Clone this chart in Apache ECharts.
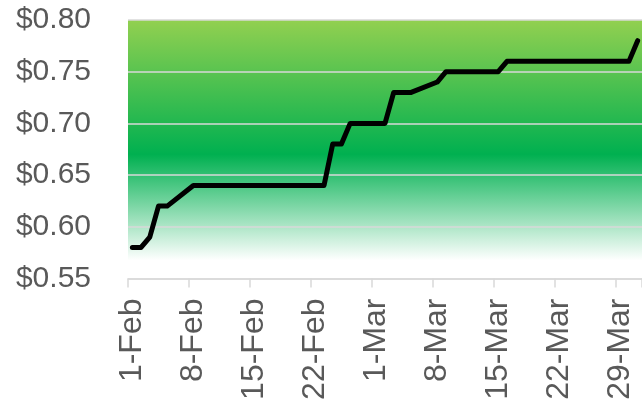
<!DOCTYPE html>
<html>
<head>
<meta charset="utf-8">
<script src="https://cdn.jsdelivr.net/npm/echarts@6/dist/echarts.min.js"></script>
<style>
  html, body { margin: 0; padding: 0; background: #ffffff; }
  #chart { width: 642px; height: 403px; }
</style>
</head>
<body>
<div id="chart"></div>
<script>
// Daily categories, 1 Feb – 31 Mar
const categories = [
  '1-Feb','2-Feb','3-Feb','4-Feb','5-Feb','6-Feb','7-Feb',
  '8-Feb','9-Feb','10-Feb','11-Feb','12-Feb','13-Feb','14-Feb',
  '15-Feb','16-Feb','17-Feb','18-Feb','19-Feb','20-Feb','21-Feb',
  '22-Feb','23-Feb','24-Feb','25-Feb','26-Feb','27-Feb','28-Feb',
  '1-Mar','2-Mar','3-Mar','4-Mar','5-Mar','6-Mar','7-Mar',
  '8-Mar','9-Mar','10-Mar','11-Mar','12-Mar','13-Mar','14-Mar',
  '15-Mar','16-Mar','17-Mar','18-Mar','19-Mar','20-Mar','21-Mar',
  '22-Mar','23-Mar','24-Mar','25-Mar','26-Mar','27-Mar','28-Mar',
  '29-Mar','30-Mar','31-Mar'
];

// Price per day (null = no trading day, line connects across)
const prices = [
  0.58, 0.58, 0.59, 0.62, 0.62, null, null,
  0.64, 0.64, 0.64, 0.64, 0.64, null, null,
  0.64, 0.64, 0.64, 0.64, 0.64, null, null,
  0.64, 0.64, 0.68, 0.68, 0.70, null, null,
  0.70, 0.70, 0.73, 0.73, 0.73, null, null,
  0.74, 0.75, 0.75, 0.75, 0.75, null, null,
  0.75, 0.76, 0.76, 0.76, 0.76, null, null,
  0.76, 0.76, 0.76, 0.76, 0.76, null, null,
  0.76, 0.76, 0.78
];

const yMin = 0.55;
const yMax = 0.80;
const yStep = 0.05;

const chart = echarts.init(document.getElementById('chart'), null, { renderer: 'canvas' });

const option = {
  animation: false,
  backgroundColor: '#ffffff',
  grid: {
    left: 128,
    right: -2,
    top: 20,
    bottom: 124.5,
    show: true,
    borderWidth: 0,
    backgroundColor: {
      type: 'linear', x: 0, y: 0, x2: 0, y2: 1,
      colorStops: [
        { offset: 0, color: '#92D050' },
        { offset: 0.52, color: '#00B050' },
        { offset: 0.93, color: '#FFFFFF' },
        { offset: 1, color: '#FFFFFF' }
      ]
    }
  },
  xAxis: {
    type: 'category',
    data: categories,
    boundaryGap: true,
    axisLine: { show: true, lineStyle: { color: '#D9D9D9', width: 1.5 } },
    axisTick: { show: true, interval: 6, length: 9, lineStyle: { color: '#D9D9D9', width: 1.5 } },
    axisLabel: {
      interval: 6,
      rotate: 90,
      margin: 20,
      color: '#595959',
      fontSize: 32,
      fontFamily: 'Liberation Sans, Arial, sans-serif'
    },
    splitLine: { show: false }
  },
  yAxis: {
    type: 'value',
    min: yMin,
    max: yMax,
    interval: yStep,
    axisLine: { show: false },
    axisTick: { show: false },
    axisLabel: {
      margin: 37,
      color: '#595959',
      fontSize: 30,
      fontFamily: 'Liberation Sans, Arial, sans-serif',
      formatter: v => '$' + v.toFixed(2)
    },
    splitLine: { show: true, lineStyle: { color: '#D9D9D9', width: 1.5 } }
  },
  series: [{
    type: 'line',
    data: prices,
    connectNulls: true,
    symbol: 'none',
    clip: false,
    lineStyle: { color: '#000000', width: 5, cap: 'round', join: 'round' }
  }]
};

chart.setOption(option);
</script>
</body>
</html>
